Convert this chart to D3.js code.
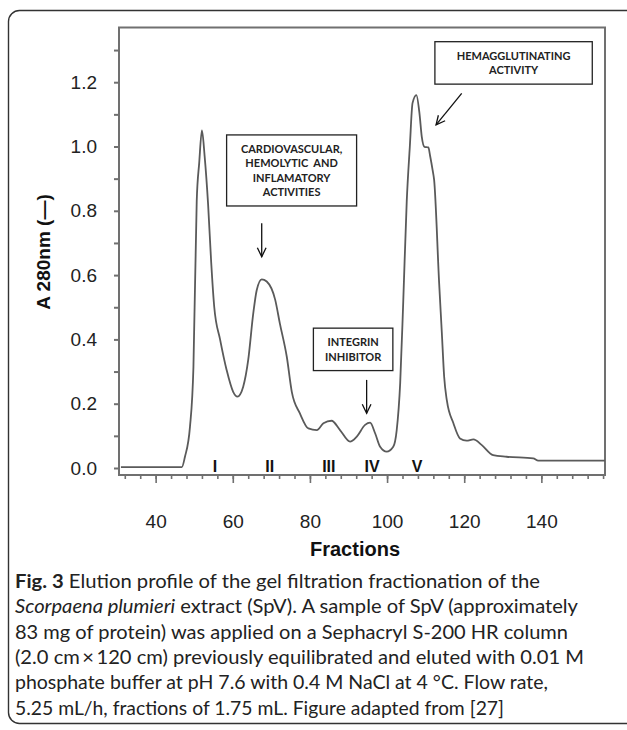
<!DOCTYPE html>
<html>
<head>
<meta charset="utf-8">
<script src="https://cdn.jsdelivr.net/npm/d3@7"></script>
<style>
  body { margin: 0; background: #fff; }
  svg { display: block; }
</style>
</head>
<body>
<svg id="chart"></svg>
<script>
const width = 627
const height = 730

// elution profile (fraction number, A 280nm)
const fractions = [31, 46.8, 47.6, 48.9, 49.8, 50.65, 51.3, 52.0, 52.7, 53.6, 54.4, 55.2, 56.7, 58.4, 60.1, 61.2, 62.7, 64.0, 65.3, 66.2, 67.5, 68.8, 71.0, 72.2, 74.0, 75.3, 77.4, 79.6, 81.8, 83.5, 85.6, 87.8, 90.4, 92.1, 94.3, 95.6, 96.9, 98.2, 99.9, 101.6, 102.5, 103.4, 104.2, 105.1, 105.9, 106.6, 107.6, 108.4, 109.0, 109.7, 110.7, 111.2, 111.8, 112.2, 113.5, 114.2, 114.8, 115.5, 117.2, 118.9, 120.6, 122.4, 124.5, 127.5, 131.0, 137.9, 139.2, 156.5]
const absorbance = [0.003, 0.003, 0.035, 0.128, 0.315, 0.83, 0.95, 1.05, 0.97, 0.82, 0.64, 0.50, 0.40, 0.305, 0.237, 0.222, 0.253, 0.336, 0.48, 0.553, 0.587, 0.58, 0.523, 0.45, 0.346, 0.237, 0.17, 0.123, 0.118, 0.139, 0.147, 0.118, 0.082, 0.097, 0.134, 0.141, 0.108, 0.066, 0.051, 0.066, 0.118, 0.264, 0.52, 0.83, 1.0, 1.135, 1.16, 1.103, 1.03, 0.999, 0.997, 0.968, 0.927, 0.896, 0.575, 0.42, 0.284, 0.21, 0.139, 0.092, 0.085, 0.089, 0.072, 0.04, 0.035, 0.03, 0.023, 0.023]

const xMajorTicks = [40, 60, 80, 100, 120, 140]
const xMinorTicks = d3.range(32, 157, 4)
const yTicks = [0, 0.2, 0.4, 0.6, 0.8, 1.0, 1.2]
const yMinorTicks = d3.range(0, 1.31, 0.1)

const peakNames = ['I', 'II', 'III', 'IV', 'V']
const peakFractions = [55.4, 69.6, 84.9, 96.1, 107.8]

// annotation boxes: [x0, x1] in fractions, [yTop, yBottom] in absorbance
const notes = [
  { lines: ['CARDIOVASCULAR,', 'HEMOLYTIC  AND', 'INFLAMATORY', 'ACTIVITIES'], x: [58.4, 92.1], y: [1.036, 0.815] },
  { lines: ['HEMAGGLUTINATING', 'ACTIVITY'], x: [112.4, 153.2], y: [1.326, 1.194] },
  { lines: ['INTEGRIN', 'INHIBITOR'], x: [80.9, 101.5], y: [0.435, 0.303] },
]
const arrows = [
  { from: [67.5, 0.761], to: [67.5, 0.657] },
  { from: [94.7, 0.274], to: [94.7, 0.170] },
  { from: [119.35, 1.165], to: [112.7, 1.067] },
]

const captionLines = [
  [['Fig. 3', 'bold'], [' Elution profile of the gel filtration fractionation of the', '']],
  [['Scorpaena plumieri', 'italic'], [' extract (SpV). A sample of SpV (approximately', '']],
  [['83 mg of protein) was applied on a Sephacryl S-200 HR column', '']],
  [['(2.0 cm\u2009×\u2009120 cm) previously equilibrated and eluted with 0.01 M', '']],
  [['phosphate buffer at pH 7.6 with 0.4 M NaCl at 4 °C. Flow rate,', '']],
  [['5.25 mL/h, fractions of 1.75 mL. Figure adapted from [27]', '']],
]
const captionWidths = [525, 563, 553, 569, 533, 489]

const svg = d3.select('#chart').attr('width', width).attr('height', height)

// outer figure frame
svg.append('rect')
  .attr('x', 8.5).attr('y', 10.5)
  .attr('width', 650).attr('height', 713)
  .attr('rx', 11)
  .attr('fill', 'none')
  .attr('stroke', '#333')
  .attr('stroke-width', 1.4)

const x = d3.scaleLinear().domain([30.5, 156.5]).range([119, 605])
const y = d3.scaleLinear().domain([0, 1.2]).range([468, 82.2])
const plotTop = 27.5
const plotBottom = 475

// plot box
svg.append('rect')
  .attr('x', 119).attr('y', plotTop)
  .attr('width', 605 - 119).attr('height', plotBottom - plotTop)
  .attr('fill', 'none')
  .attr('stroke', '#707070')
  .attr('stroke-width', 2)

// y axis
const yAxis = svg.append('g')
  .attr('transform', 'translate(119,0)')
  .call(d3.axisLeft(y).tickValues(yMinorTicks).tickSize(5).tickPadding(17)
    .tickFormat(d => yTicks.some(t => Math.abs(t - d) < 1e-6) ? d3.format('.1f')(d) : ''))
yAxis.select('.domain').remove()
yAxis.selectAll('line').attr('stroke', '#707070').attr('stroke-width', 2)
yAxis.selectAll('text')
  .attr('fill', '#222')
  .style('font-family', 'Arial, "Liberation Sans", sans-serif')
  .style('font-size', '19px')

// x axis, minor + major ticks
const xMinor = svg.append('g')
  .attr('transform', `translate(0,${plotBottom})`)
  .call(d3.axisBottom(x).tickValues(xMinorTicks).tickSize(4).tickFormat(''))
xMinor.select('.domain').remove()
xMinor.selectAll('line').attr('stroke', '#707070').attr('stroke-width', 1.6)

const xMajor = svg.append('g')
  .attr('transform', `translate(0,${plotBottom})`)
  .call(d3.axisBottom(x).tickValues(xMajorTicks).tickSize(8).tickPadding(32))
xMajor.select('.domain').remove()
xMajor.selectAll('line').attr('stroke', '#707070').attr('stroke-width', 1.6)
xMajor.selectAll('text')
  .attr('fill', '#222')
  .style('font-family', 'Arial, "Liberation Sans", sans-serif')
  .style('font-size', '19px')

// axis titles
svg.append('text')
  .attr('transform', 'translate(50,252) rotate(-90)')
  .attr('text-anchor', 'middle')
  .attr('fill', '#111')
  .style('font-family', 'Arial, "Liberation Sans", sans-serif')
  .style('font-size', '19px')
  .style('font-weight', 'bold')
  .text('A 280nm (—)')

svg.append('text')
  .attr('x', 355).attr('y', 556)
  .attr('text-anchor', 'middle')
  .attr('fill', '#111')
  .style('font-family', 'Arial, "Liberation Sans", sans-serif')
  .style('font-size', '20px')
  .style('font-weight', 'bold')
  .text('Fractions')

// elution curve
const points = fractions.map((f, i) => [f, absorbance[i]])
const line = d3.line()
  .x(d => x(d[0]))
  .y(d => y(d[1]))
  .curve(d3.curveMonotoneX)

svg.append('path')
  .datum(points)
  .attr('d', line)
  .attr('fill', 'none')
  .attr('stroke', '#5a5a5a')
  .attr('stroke-width', 1.8)

// peak numerals
svg.selectAll('.peak')
  .data(peakNames)
  .enter()
  .append('text')
  .attr('class', 'peak')
  .attr('x', (d, i) => x(peakFractions[i]))
  .attr('y', 472)
  .attr('text-anchor', 'middle')
  .attr('fill', '#111')
  .style('font-family', 'Arial, "Liberation Sans", sans-serif')
  .style('font-size', '16px')
  .style('font-weight', 'bold')
  .text(d => d)

// annotation boxes
const noteG = svg.selectAll('.note')
  .data(notes)
  .enter()
  .append('g')
  .attr('class', 'note')

noteG.append('rect')
  .attr('x', d => x(d.x[0]))
  .attr('y', d => y(d.y[0]))
  .attr('width', d => x(d.x[1]) - x(d.x[0]))
  .attr('height', d => y(d.y[1]) - y(d.y[0]))
  .attr('fill', '#fff')
  .attr('stroke', '#222')
  .attr('stroke-width', 1.3)

noteG.each(function (d) {
  const cx = (x(d.x[0]) + x(d.x[1])) / 2
  const boxH = y(d.y[1]) - y(d.y[0])
  const lh = 14.5
  const startY = y(d.y[0]) + boxH / 2 - (d.lines.length - 1) * lh / 2 + 4
  d3.select(this).selectAll('text')
    .data(d.lines)
    .enter()
    .append('text')
    .attr('x', cx)
    .attr('y', (t, i) => startY + i * lh)
    .attr('text-anchor', 'middle')
    .attr('fill', '#222')
    .style('font-family', 'Lato, "Open Sans", sans-serif')
    .style('font-size', '11px')
    .style('font-weight', 'bold')
    .style('white-space', 'pre')
    .text(t => t)
})

// arrows
const arrowG = svg.selectAll('.arrow')
  .data(arrows)
  .enter()
  .append('g')
  .attr('class', 'arrow')
  .attr('stroke', '#111')
  .attr('stroke-width', 1.3)
  .attr('fill', 'none')

arrowG.append('line')
  .attr('x1', d => x(d.from[0])).attr('y1', d => y(d.from[1]))
  .attr('x2', d => x(d.to[0])).attr('y2', d => y(d.to[1]))

arrowG.append('path')
  .attr('d', d => {
    const x1 = x(d.from[0]), y1 = y(d.from[1])
    const x2 = x(d.to[0]), y2 = y(d.to[1])
    const a = Math.atan2(y2 - y1, x2 - x1)
    const len = 10, spread = 0.45
    const p1 = [x2 - len * Math.cos(a - spread), y2 - len * Math.sin(a - spread)]
    const p2 = [x2 - len * Math.cos(a + spread), y2 - len * Math.sin(a + spread)]
    return `M${p1[0]},${p1[1]}L${x2},${y2}L${p2[0]},${p2[1]}`
  })

// caption
captionLines.forEach((parts, i) => {
  const t = svg.append('text')
    .attr('x', 15)
    .attr('y', 588 + i * 25.3)
    .attr('fill', '#222')
    .attr('textLength', captionWidths[i])
    .attr('lengthAdjust', 'spacingAndGlyphs')
    .style('font-family', 'Lato, "Open Sans", sans-serif')
    .style('font-size', '19px')
    .style('white-space', 'pre')
  parts.forEach(p => {
    const s = t.append('tspan').text(p[0])
    if (p[1] === 'bold') s.style('font-weight', 'bold')
    if (p[1] === 'italic') s.style('font-style', 'italic')
  })
})
</script>
</body>
</html>
